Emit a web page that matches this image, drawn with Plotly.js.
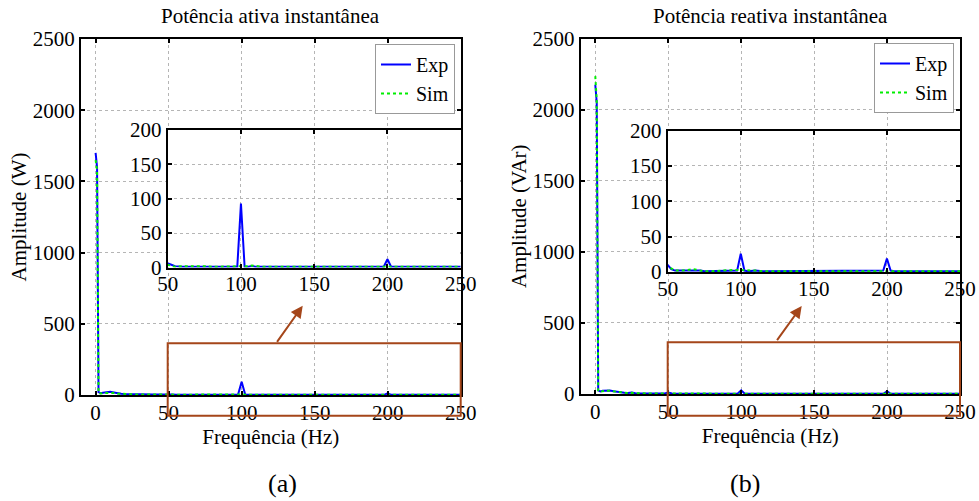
<!DOCTYPE html>
<html>
<head>
<meta charset="utf-8">
<script src="https://cdn.plot.ly/plotly-3.0.1.min.js"></script>
<style>html,body{margin:0;padding:0;background:#fff;}#chart{width:979px;height:501px;}</style>
</head>
<body>
<div id="chart"></div>
<script>
// Frequency grid (Hz)
var freq = [0,1,2,3.5,5,7.5,10,12.5,15,17.5,20,22.5,25,27.5,30,35,40,45,47.5,50,52.5,55,60,65,67.5,70,72.5,75,80,85,90,95,97.5,100,102.5,105,107.5,110,115,120,125,130,135,140,145,147.5,150,152.5,155,160,165,170,175,180,185,190,195,197.5,200,202.5,205,210,215,220,225,230,235,240,245,250];
// (a) Potência ativa (W)
var expA = [1700,1600,20,12,15,18,22,18,12,9,7,6,8,5,4,4,3,3,4,6,4,2,1,1,2,2,2,1,1,1,1,1,1,93,1,1,2,1,1,1,1,1,1,1,1,1,2,1,1,1,1,1,1,1,1,1,1,1,12,1,1,1,1,1,1,1,1,1,1,1];
var simA = [1650,1580,14,10,14,16,18,15,10,8,6,5,6,4,4,3,3,2,3,4,3,1,2,2,3,3,2,2,1,1,2,2,2,2,1,2,3,2,1,1,1,1,1,1,1,1,1,1,1,1,1,1,1,1,1,1,1,1,1,1,1,1,1,1,1,1,1,1,1,1];
// (b) Potência reativa (VAr)
var expB = [2175,2050,25,18,22,25,24,20,15,10,8,7,10,6,5,4,4,3,4,10,4,2,2,2,3,3,2,1,1,2,2,2,2,26,2,1,2,2,1,1,1,1,1,1,1,1,2,1,1,1,1,1,1,1,1,1,1,2,19,2,1,1,1,1,1,1,1,1,1,1];
var simB = [2235,2060,20,15,20,24,22,18,14,9,7,6,8,5,5,4,3,3,4,6,5,2,2,3,4,3,2,1,1,2,2,3,3,3,2,2,3,2,1,1,1,1,1,1,1,1,2,1,1,1,1,1,1,1,1,1,1,1,1,1,1,1,1,1,1,1,1,1,1,1];

var seriesNames = ['Exp','Sim'];
var panelTitles = ['Potência ativa instantânea','Potência reativa instantânea'];
var yTitles = ['Amplitude (W)','Amplitude (VAr)'];
var xTitle = 'Frequência (Hz)';
var panelLabels = ['(a)','(b)'];
var mainTicks = [0,50,100,150,200,250];
var mainYTicks = [0,500,1000,1500,2000,2500];
var insetYTicks = [0,50,100,150,200];
var insetXTicks = [50,100,150,200,250];

var FONT = 'Liberation Serif';
var BLUE = '#0000ff', GREEN = '#00ee00', BROWN = '#a5461a';

function tr(y, name, xa, ya, legendName, show, color, dash){
  return {x: freq, y: y, type:'scatter', mode:'lines', name: name,
    xaxis: xa, yaxis: ya, legend: legendName, showlegend: show,
    line:{color: color, width: 2, dash: dash}};
}
var data = [
  tr(expA, seriesNames[0], 'x', 'y', 'legend', true, BLUE, 'solid'),
  tr(simA, seriesNames[1], 'x', 'y', 'legend', true, GREEN, 'dot'),
  tr(expA, seriesNames[0], 'x2', 'y2', 'legend', false, BLUE, 'solid'),
  tr(simA, seriesNames[1], 'x2', 'y2', 'legend', false, GREEN, 'dot'),
  tr(expB, seriesNames[0], 'x3', 'y3', 'legend2', true, BLUE, 'solid'),
  tr(simB, seriesNames[1], 'x3', 'y3', 'legend2', true, GREEN, 'dot'),
  tr(expB, seriesNames[0], 'x4', 'y4', 'legend2', false, BLUE, 'solid'),
  tr(simB, seriesNames[1], 'x4', 'y4', 'legend2', false, GREEN, 'dot')
];

function ax(extra){
  var base = {showline:true, linecolor:'#000', linewidth:2, mirror:'ticks',
    ticks:'inside', ticklen:4, tickwidth:2, tickcolor:'#000',
    showgrid:true, gridcolor:'#b5b5b5', griddash:'dot', gridwidth:1,
    zeroline:false, fixedrange:true,
    tickfont:{family:FONT, size:21, color:'#000'}};
  for (var k in extra) base[k] = extra[k];
  return base;
}
var W = 979, H = 501;
function px(v){ return v/W; }
function py(v){ return 1 - v/H; }
var titleFont = {family:FONT, size:21, color:'#000'};

var layout = {
  width: W, height: H, margin:{l:0,r:0,t:0,b:0},
  paper_bgcolor:'#fff', plot_bgcolor:'#fff',
  font:{family:FONT, color:'#000'},
  xaxis: ax({domain:[px(81),px(460.7)], range:[-10,250], tickvals:mainTicks, anchor:'y',
    ticklabelstandoff:-2, title:{text:xTitle, font:titleFont, standoff:0}}),
  yaxis: ax({domain:[py(395),py(39)], range:[0,2500], tickvals:mainYTicks, anchor:'x',
    title:{text:yTitles[0], font:titleFont, standoff:0}}),
  xaxis2: ax({domain:[px(167.7),px(460.7)], range:[50,250], tickvals:insetXTicks, anchor:'y2',
    ticklabelstandoff:-4}),
  yaxis2: ax({domain:[py(267.5),py(130)], range:[0,200], tickvals:insetYTicks, anchor:'x2'}),
  xaxis3: ax({domain:[px(580.7),px(960)], range:[-10,250], tickvals:mainTicks, anchor:'y3',
    ticklabelstandoff:-2, title:{text:xTitle, font:titleFont, standoff:0}}),
  yaxis3: ax({domain:[py(394),py(38.5)], range:[0,2500], tickvals:mainYTicks, anchor:'x3',
    title:{text:yTitles[1], font:titleFont, standoff:0}}),
  xaxis4: ax({domain:[px(667.7),px(960)], range:[50,250], tickvals:insetXTicks, anchor:'y4',
    ticklabelstandoff:-3}),
  yaxis4: ax({domain:[py(272),py(130.5)], range:[0,200], tickvals:insetYTicks, anchor:'x4'}),
  legend: {x:px(455), y:py(44), xanchor:'right', yanchor:'top', bgcolor:'#fff',
    bordercolor:'#999', borderwidth:1, font:{family:FONT,size:20}, tracegroupgap:0, itemwidth:30},
  legend2: {x:px(954), y:py(43), xanchor:'right', yanchor:'top', bgcolor:'#fff',
    bordercolor:'#999', borderwidth:1, font:{family:FONT,size:20}, tracegroupgap:0, itemwidth:30},
  shapes: [
    {type:'rect', xref:'paper', yref:'paper', x0:px(167.7), x1:px(460.7), y0:py(415.7), y1:py(343.3),
      line:{color:BROWN, width:2}, fillcolor:'rgba(0,0,0,0)', layer:'above'},
    {type:'rect', xref:'paper', yref:'paper', x0:px(667.7), x1:px(960), y0:py(415.7), y1:py(342.3),
      line:{color:BROWN, width:2}, fillcolor:'rgba(0,0,0,0)', layer:'above'}
  ],
  annotations: [
    {text:panelTitles[0], xref:'paper', yref:'paper', x:px(270), y:py(16), xanchor:'center', yanchor:'middle', showarrow:false, font:titleFont},
    {text:panelTitles[1], xref:'paper', yref:'paper', x:px(770), y:py(16), xanchor:'center', yanchor:'middle', showarrow:false, font:titleFont},
    {text:panelLabels[0], xref:'paper', yref:'paper', x:px(282), y:py(483), xanchor:'center', yanchor:'middle', showarrow:false, font:{family:FONT,size:26}},
    {text:panelLabels[1], xref:'paper', yref:'paper', x:px(745), y:py(483), xanchor:'center', yanchor:'middle', showarrow:false, font:{family:FONT,size:26}},
    {text:'', xref:'paper', yref:'paper', x:px(302.7), y:py(305.7), ax:-26.7, ay:37.6, showarrow:true,
      arrowhead:2, arrowsize:1.2, arrowwidth:2, arrowcolor:BROWN},
    {text:'', xref:'paper', yref:'paper', x:px(801.7), y:py(306), ax:-25.7, ay:35.7, showarrow:true,
      arrowhead:2, arrowsize:1.2, arrowwidth:2, arrowcolor:BROWN}
  ]
};
Plotly.newPlot('chart', data, layout, {staticPlot:true, displayModeBar:false});
</script>
</body>
</html>
